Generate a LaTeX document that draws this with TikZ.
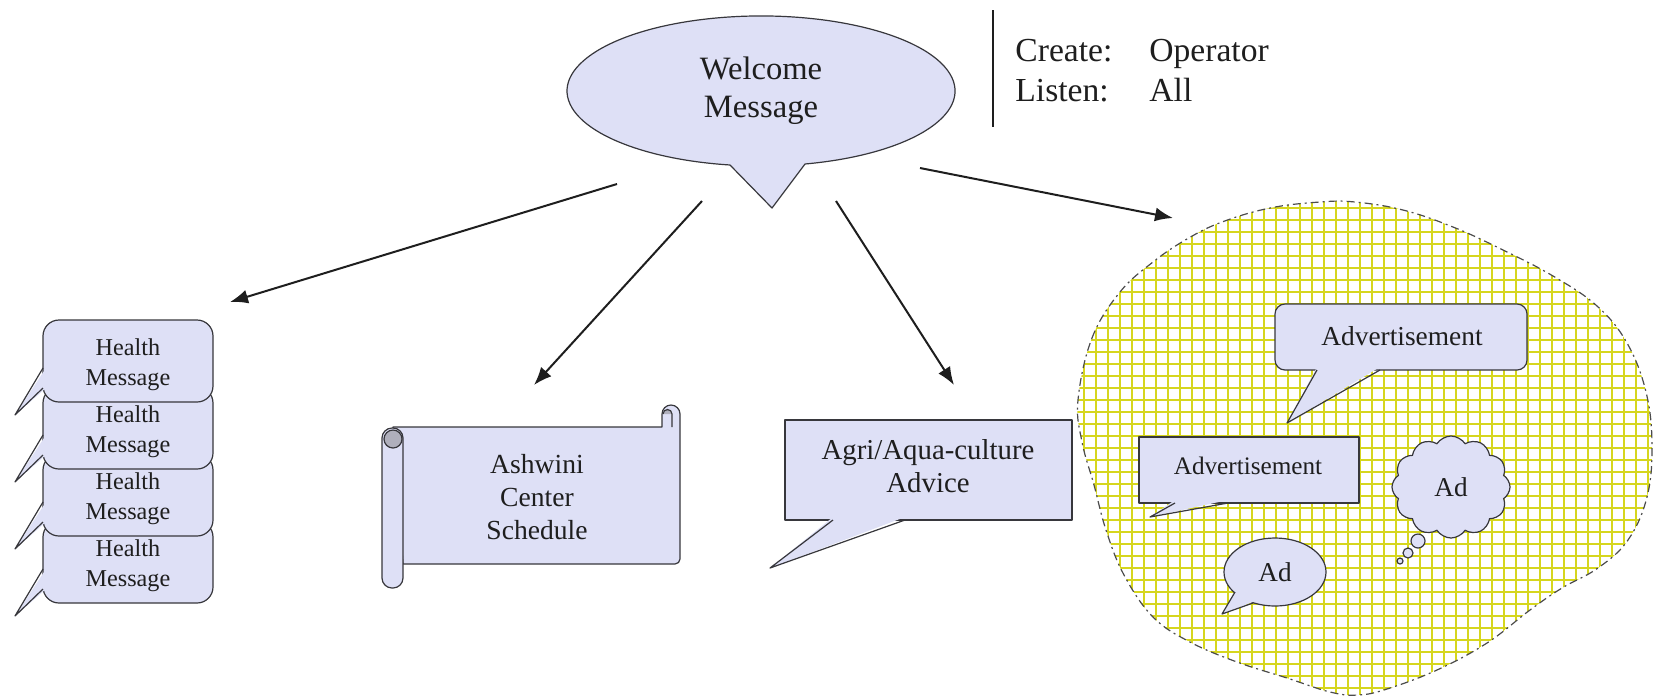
\documentclass[tikz,border=0pt]{standalone}
\usepackage{fontspec}
\setmainfont{Liberation Serif}
\usetikzlibrary{arrows.meta,shapes.symbols}

\definecolor{bubble}{RGB}{222,224,246}
\definecolor{edge}{RGB}{55,55,60}
\definecolor{curl}{RGB}{175,175,188}
\definecolor{gridy}{RGB}{214,214,30}
\definecolor{ink}{RGB}{30,30,30}

% outline of the advertising area
\newcommand{\adblob}{plot[smooth cycle, tension=0.65] coordinates {
  (1078,400) (1092,338) (1120,292) (1153,262) (1187,239) (1222,222)
  (1270,208) (1320,202) (1355,202) (1403,210) (1453,227) (1503,250)
  (1553,276) (1597,306) (1627,343) (1646,392) (1652,445) (1647,497)
  (1628,540) (1598,568) (1562,588) (1530,610) (1487,643) (1437,670)
  (1387,689) (1358,695) (1330,692) (1287,678) (1237,662) (1190,642)
  (1153,617) (1124,575) (1106,530) (1094,485) (1082,442)}}

\begin{document}
\begin{tikzpicture}[x=0.5pt,y=-0.5pt,
  shapeline/.style={draw=edge, line width=0.6pt, fill=bubble, line join=round},
  wedgefill/.style={fill=bubble, draw=none},
  wedgeline/.style={draw=edge, line width=0.6pt, line join=round},
  conn/.style={draw=ink, line width=1pt, -{Latex[length=9pt,width=7pt]}},
  lbl/.style={align=center, inner sep=0pt, text=ink},
  gridline/.style={draw=gridy, line width=0.8pt},
  blobedge/.style={draw=black!70, line width=0.6pt,
    dash pattern=on 4pt off 2pt on 1pt off 2pt},
]
\useasboundingbox (0,0) rectangle (1654,698);

% ---------- welcome message (oval callout) ----------
\draw[shapeline] (730,165) -- (772,208) -- (805,164)
  arc[start angle=76.9, end angle=-260.8, x radius=194, y radius=75] -- cycle;
\node[lbl, font=\fontsize{16.3}{19}\selectfont] (welcome) at (761,91) {Welcome\\Message};

% ---------- roles ----------
\coordinate (barTop) at (993,10);
\coordinate (barBot) at (993,127);
\draw[draw=ink, line width=0.8pt] (barTop) -- (barBot);
\node[lbl, anchor=base west, font=\fontsize{16.8}{20}\selectfont] (create) at (1015,61) {Create:};
\node[lbl, anchor=base west, font=\fontsize{16.8}{20}\selectfont] (operator) at (1149,61) {Operator};
\node[lbl, anchor=base west, font=\fontsize{16.8}{20}\selectfont] (listen) at (1015,101) {Listen:};
\node[lbl, anchor=base west, font=\fontsize{16.8}{20}\selectfont] (all) at (1149,101) {All};

% ---------- stack of health messages (bottom one first) ----------
\foreach \i in {3,2,1,0} {
  \pgfmathsetmacro{\t}{320+67*\i}
  \pgfmathsetmacro{\b}{\t+82}
  \draw[shapeline, rounded corners=8pt] (43,\t) rectangle (213,\b);
  \fill[wedgefill] (46,\t+48) -- (15,\t+95) -- (46,\t+68) -- cycle;
  \draw[wedgeline] (43,\t+48) -- (15,\t+95) -- (43,\t+68);
  \node[lbl, font=\fontsize{12.1}{15}\selectfont] (health\i) at (128,\t+45) {Health\\Message};
}

% ---------- scroll ----------
\draw[shapeline] (393,427) -- (662,427) -- (662,414)
  arc[start angle=180, end angle=360, radius=9] -- (680,559)
  arc[start angle=0, end angle=90, radius=5] -- (403,564) -- cycle;
\fill[curl] (663,414) arc[start angle=180, end angle=360, radius=4.5] -- cycle;
\draw[draw=edge, line width=0.6pt] (663,414) arc[start angle=180, end angle=360, radius=4.5] -- (672,427);
\draw[shapeline, rounded corners=5pt] (382,428) rectangle (403,588);
\draw[draw=edge, line width=0.6pt, fill=curl] (393,439) circle[radius=9];
\node[lbl, font=\fontsize{13.8}{16.5}\selectfont] (ashwini) at (537,497) {Ashwini\\Center\\Schedule};

% ---------- agri / aqua-culture callout ----------
\draw[shapeline] (785,420) rectangle (1072,520);
\fill[wedgefill] (833,517) -- (770,568) -- (905,517) -- cycle;
\draw[wedgeline] (833,520) -- (770,568) -- (905,520);
\node[lbl, font=\fontsize{14.4}{16.5}\selectfont] (agri) at (928,466) {Agri/Aqua-culture\\Advice};

% ---------- advertising area ----------
\begin{scope}
  \clip \adblob;
  \fill[white] (1060,190) rectangle (1654,698);
  \foreach \gx in {1072,1084,...,1654} \draw[gridline] (\gx,190) -- (\gx,698);
  \foreach \gy in {196,208,...,698} \draw[gridline] (1060,\gy) -- (1654,\gy);
\end{scope}
\draw[blobedge] \adblob;

% rounded advertisement callout
\draw[shapeline, rounded corners=5pt] (1275,304) rectangle (1527,370);
\fill[wedgefill] (1317,367) -- (1287,423) -- (1380,367) -- cycle;
\draw[wedgeline] (1317,370) -- (1287,423) -- (1380,370);
\node[lbl, font=\fontsize{13.7}{16}\selectfont] (advTop) at (1402,336) {Advertisement};

% rectangular advertisement callout
\draw[shapeline] (1139,437) rectangle (1359,503);
\fill[wedgefill] (1175,500) -- (1150,517) -- (1228,500) -- cycle;
\draw[wedgeline] (1175,503) -- (1150,517) -- (1228,503);
\node[lbl, font=\fontsize{12.6}{15}\selectfont] (advLow) at (1248,466) {Advertisement};

% oval "Ad" callout
\draw[shapeline] (1275,572) ellipse[x radius=51, y radius=34];
\fill[wedgefill] (1238,588) -- (1222,614) -- (1258,600) -- cycle;
\draw[wedgeline] (1235,592) -- (1222,614) -- (1253,603);
\node[lbl, font=\fontsize{13.6}{16}\selectfont] (adOval) at (1275,572) {Ad};

% thought cloud "Ad"
\node[cloud, cloud puffs=12, cloud puff arc=115, aspect=1.15,
      draw=edge, line width=0.6pt, fill=bubble, inner sep=0pt,
      minimum width=59pt, minimum height=51pt,
      font=\fontsize{13.6}{16}\selectfont, text=ink] (adCloud) at (1451,487) {Ad};
\draw[shapeline] (1418,541) circle[radius=7];
\draw[shapeline] (1408,553) circle[radius=5];
\draw[shapeline] (1400,561) circle[radius=3];

% ---------- connectors ----------
\coordinate (a1s) at (617,184);  \coordinate (a1e) at (230,302);
\coordinate (a2s) at (702,201);  \coordinate (a2e) at (534,385);
\coordinate (a3s) at (836,201);  \coordinate (a3e) at (954,385);
\coordinate (a4s) at (920,168);  \coordinate (a4e) at (1173,218);
\draw[conn] (a1s) -- (a1e);
\draw[conn] (a2s) -- (a2e);
\draw[conn] (a3s) -- (a3e);
\draw[conn] (a4s) -- (a4e);
\end{tikzpicture}
\end{document}
